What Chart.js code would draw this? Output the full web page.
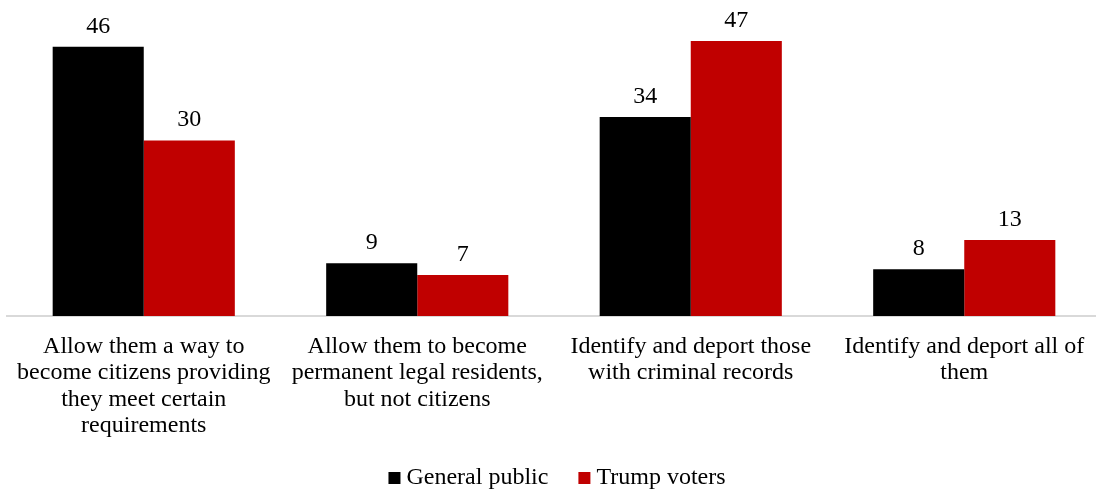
<!DOCTYPE html>
<html>
<head>
<meta charset="utf-8">
<script src="https://cdn.jsdelivr.net/npm/chart.js@4/dist/chart.umd.min.js"></script>
<style>
  html, body { margin: 0; padding: 0; background: #fff; overflow: hidden; }
  #wrap { width: 1101px; height: 491px; }
</style>
</head>
<body>
<div id="wrap"><canvas id="chart"></canvas></div>
<script>
const CATEGORIES = [
  ['Allow them a way to', 'become citizens providing', 'they meet certain', 'requirements'],
  ['Allow them to become', 'permanent legal residents,', 'but not citizens'],
  ['Identify and deport those', 'with criminal records'],
  ['Identify and deport all of', 'them'],
];
const GENERAL_PUBLIC = [46, 9, 34, 8];
const TRUMP_VOTERS = [30, 7, 47, 13];

const FONT = '"Liberation Serif", "Times New Roman", serif';

// value labels above each bar
const barLabels = {
  id: 'barLabels',
  afterDatasetsDraw(chart) {
    const ctx = chart.ctx;
    ctx.save();
    ctx.font = '24px ' + FONT;
    ctx.fillStyle = '#000';
    ctx.textAlign = 'center';
    ctx.textBaseline = 'alphabetic';
    chart.data.datasets.forEach((ds, i) => {
      chart.getDatasetMeta(i).data.forEach((bar, j) => {
        ctx.fillText(ds.data[j], bar.x, bar.y - 14);
      });
    });
    ctx.restore();
  },
};

// legend row under the axis: small square then the series name
const bottomLegend = {
  id: 'bottomLegend',
  afterDraw(chart) {
    const ctx = chart.ctx;
    const items = chart.data.datasets;
    const box = 12, gap = 6, spacing = 30, baseY = 484, centerX = 557;
    ctx.save();
    ctx.font = '24px ' + FONT;
    ctx.textBaseline = 'alphabetic';
    ctx.textAlign = 'left';
    const widths = items.map(ds => box + gap + ctx.measureText(ds.label).width);
    const total = widths.reduce((a, b) => a + b, 0) + spacing * (items.length - 1);
    let x = centerX - total / 2;
    items.forEach((ds, i) => {
      ctx.fillStyle = ds.backgroundColor;
      ctx.fillRect(x, baseY - box, box, box);
      ctx.fillStyle = '#000';
      ctx.fillText(ds.label, x + box + gap, baseY);
      x += widths[i] + spacing;
    });
    ctx.restore();
  },
};

new Chart(document.getElementById('chart'), {
  type: 'bar',
  data: {
    labels: CATEGORIES,
    datasets: [
      { label: 'General public', data: GENERAL_PUBLIC, backgroundColor: '#000000' },
      { label: 'Trump voters', data: TRUMP_VOTERS, backgroundColor: '#c00000' },
    ],
  },
  options: {
    responsive: true,
    maintainAspectRatio: false,
    animation: false,
    layout: { padding: { left: 7, right: 0, top: 0, bottom: 43 } },
    datasets: { bar: { categoryPercentage: 0.666, barPercentage: 1.0 } },
    plugins: {
      legend: { display: false },
      tooltip: { enabled: false },
    },
    scales: {
      x: {
        grid: { display: false },
        border: { color: '#d9d9d9', width: 2 },
        ticks: {
          color: '#000',
          font: { family: FONT, size: 24, lineHeight: 26.5 / 24 },
          padding: 9,
          maxRotation: 0,
          autoSkip: false,
        },
      },
      y: {
        min: 0,
        max: 54,
        display: false,
      },
    },
  },
  plugins: [barLabels, bottomLegend],
});
</script>
</body>
</html>
